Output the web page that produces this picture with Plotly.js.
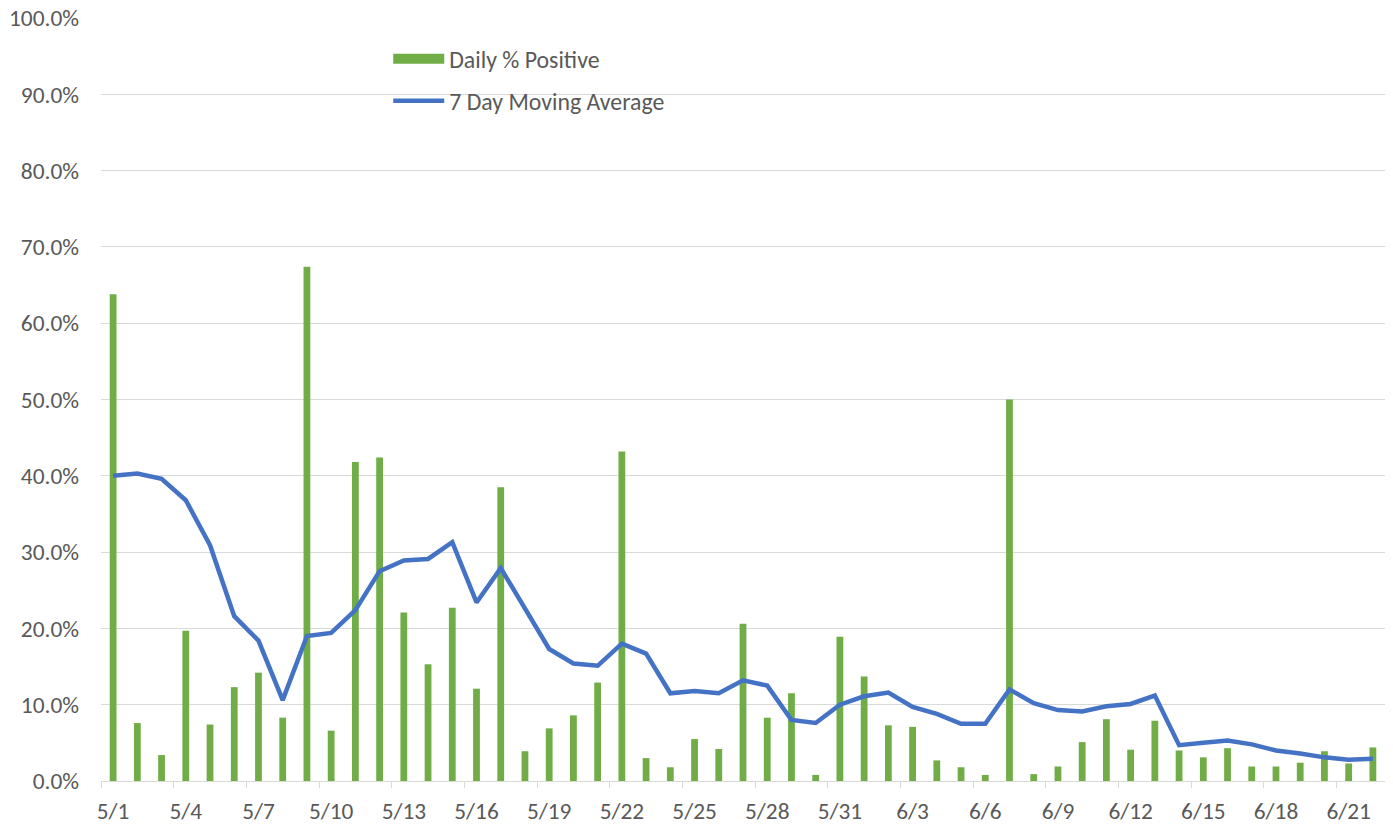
<!DOCTYPE html>
<html>
<head>
<meta charset="utf-8">
<script src="https://cdn.plot.ly/plotly-3.0.1.min.js"></script>
<style>html,body{margin:0;padding:0;background:#fff;}#chart{width:1393px;height:831px;}</style>
</head>
<body>
<div id="chart"></div>
<script>
const dates = ["5/1","5/2","5/3","5/4","5/5","5/6","5/7","5/8","5/9","5/10",
  "5/11","5/12","5/13","5/14","5/15","5/16","5/17","5/18","5/19","5/20",
  "5/21","5/22","5/23","5/24","5/25","5/26","5/27","5/28","5/29","5/30",
  "5/31","6/1","6/2","6/3","6/4","6/5","6/6","6/7","6/8","6/9",
  "6/10","6/11","6/12","6/13","6/14","6/15","6/16","6/17","6/18","6/19",
  "6/20","6/21","6/22"];
const dailyPositive = [63.8,7.6,3.4,19.7,7.4,12.3,14.2,8.3,67.4,6.6,
  41.8,42.4,22.1,15.3,22.7,12.1,38.5,3.9,6.9,8.6,
  12.9,43.2,3.0,1.8,5.5,4.2,20.6,8.3,11.5,0.8,
  18.9,13.7,7.3,7.1,2.7,1.8,0.8,50.0,0.9,1.9,
  5.1,8.1,4.1,7.9,4.0,3.1,4.3,1.9,1.9,2.4,
  3.9,2.3,4.4];
const movingAvg = [40.0,40.3,39.6,36.8,30.9,21.6,18.4,10.6,19.0,19.4,
  22.4,27.5,28.9,29.1,31.3,23.4,27.9,22.7,17.3,15.4,
  15.1,18.0,16.7,11.5,11.8,11.5,13.2,12.5,8.0,7.6,
  10.0,11.1,11.6,9.7,8.8,7.5,7.5,12.0,10.2,9.3,
  9.1,9.8,10.1,11.2,4.7,5.0,5.3,4.8,4.0,3.6,
  3.1,2.8,2.9];
const seriesNames = ["Daily % Positive", "7 Day Moving Average"];

const fontFam = "Carlito, Lato, 'Open Sans', sans-serif";
const txtColor = "#595959";
const barColor = "#70AD47";
const lineColor = "#4472C4";

const traces = [
  {type: "bar", x: dates, y: dailyPositive, name: seriesNames[0],
   marker: {color: barColor}, width: 0.28, showlegend: false},
  {type: "scatter", mode: "lines", x: dates, y: movingAvg, name: seriesNames[1],
   line: {color: lineColor, width: 4.5}, legend: "legend2"},
  // legend entry for the bar series (wide swatch as in the original)
  {type: "scatter", mode: "lines", x: [dates[0]], y: [null], name: seriesNames[0],
   line: {color: barColor, width: 11.5}, legend: "legend", hoverinfo: "skip"}
];

const layout = {
  width: 1393, height: 831,
  margin: {l: 101, r: 8, t: 18, b: 50},
  paper_bgcolor: "#fff", plot_bgcolor: "#fff",
  font: {family: fontFam, size: 23.5, color: txtColor},
  showlegend: true,
  legend: {x: 0.2237, y: 0.9465, xanchor: "left", yanchor: "middle",
    bgcolor: "rgba(0,0,0,0)", font: {size: 23.8, color: txtColor}, itemwidth: 51},
  legend2: {x: 0.2237, y: 0.8915, xanchor: "left", yanchor: "middle",
    bgcolor: "rgba(0,0,0,0)", font: {size: 23.8, color: txtColor}, itemwidth: 51},
  xaxis: {
    type: "category", range: [-0.5, 52.5],
    tickmode: "linear", tick0: 0, dtick: 3, tickangle: 0,
    tickson: "boundaries", ticks: "outside", ticklen: 6, tickcolor: "#d9d9d9",
    showgrid: false, showline: true, linecolor: "#d9d9d9", linewidth: 1,
    ticklabelstandoff: 9,
    tickfont: {size: 23.3, color: txtColor}, zeroline: false
  },
  yaxis: {
    range: [0, 100], dtick: 10, tickformat: ".1f", ticksuffix: "%",
    showgrid: true, gridcolor: "#d9d9d9", gridwidth: 1,
    zeroline: false, showline: false, ticks: "", ticklabelstandoff: 21,
    tickfont: {size: 23.4, color: txtColor}
  },
  bargap: 0.7
};

Plotly.newPlot("chart", traces, layout, {displayModeBar: false, staticPlot: true});
</script>
</body>
</html>
